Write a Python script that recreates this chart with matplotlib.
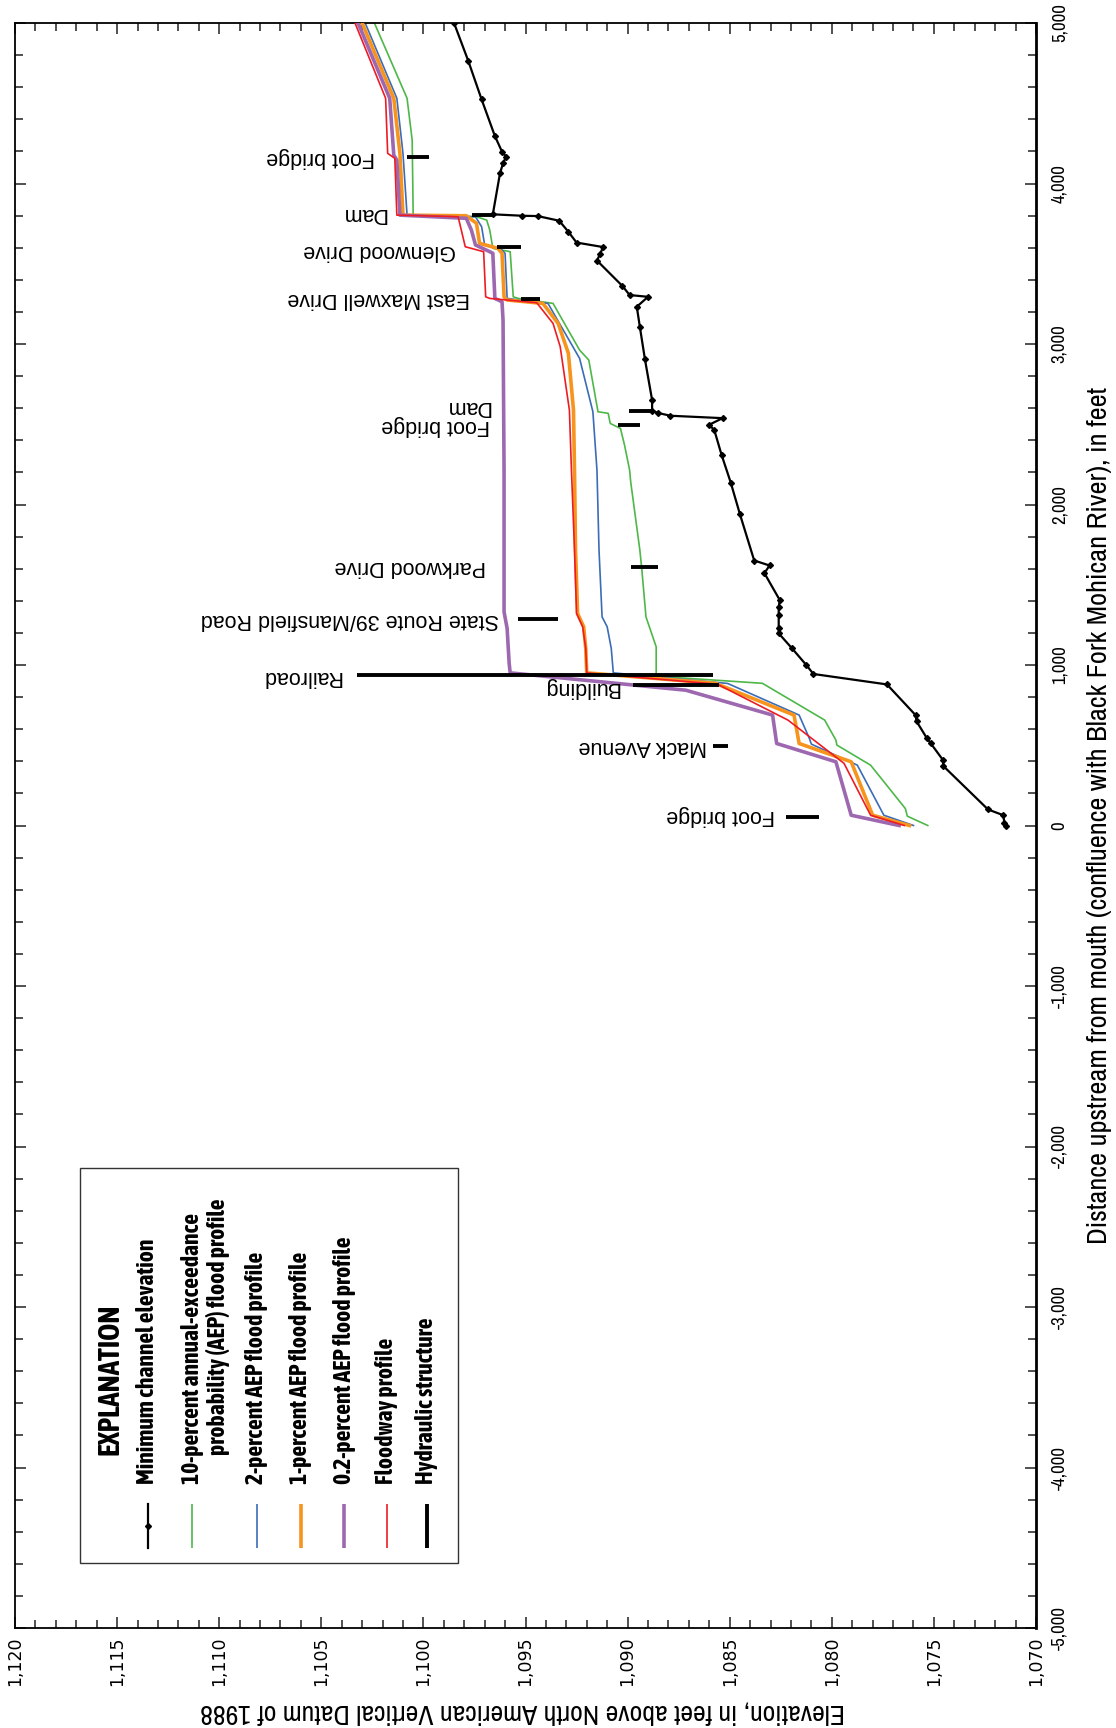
import matplotlib
matplotlib.use("Agg")
import matplotlib.pyplot as plt
from matplotlib.lines import Line2D
from matplotlib.patches import Rectangle
from matplotlib.ticker import MultipleLocator, FuncFormatter

# Water-surface profiles, distance upstream (ft) vs elevation (ft, NAVD 88)
chan_dist = [0, 17, 64, 100, 372, 407, 511, 545, 649, 688, 879, 944, 1000, 1104, 1197, 1229,
             1312, 1360, 1405, 1572, 1620, 1651, 1940, 2137, 2310, 2462, 2497, 2538, 2553, 2570,
             2585, 2651, 2904, 3107, 3232, 3294, 3305, 3361, 3520, 3560, 3604, 3632, 3699, 3768,
             3797, 3799, 3808, 4063, 4126, 4167, 4198, 4296, 4524, 4763, 5000]
chan_elev = [1071.45, 1071.55, 1071.6, 1072.35, 1074.55, 1074.55, 1075.15, 1075.35, 1075.85, 1075.9,
             1077.3, 1080.9, 1081.25, 1081.95, 1082.6, 1082.6, 1082.6, 1082.6, 1082.55, 1083.3,
             1083.05, 1083.8, 1084.5, 1084.95, 1085.4, 1085.75, 1086.0, 1085.35, 1087.9, 1088.5,
             1088.8, 1088.8, 1089.15, 1089.4, 1089.55, 1089.0, 1089.9, 1090.25, 1091.5, 1091.35,
             1091.2, 1092.5, 1092.9, 1093.35, 1094.4, 1095.15, 1096.6, 1096.25, 1096.1, 1095.95,
             1096.15, 1096.5, 1097.15, 1097.8, 1098.5]

p10_dist = [0, 58, 106, 376, 501, 532, 657, 886, 930, 1113, 1300, 1591, 1716, 2143, 2214, 2370,
            2474, 2505, 2568, 2578, 2900, 2962, 3107, 3253, 3284, 3294, 3575, 3596, 3710, 3772,
            3793, 3803, 4271, 4531, 5000]
p10_elev = [1075.3, 1076.3, 1076.4, 1078.1, 1079.75, 1079.8, 1080.35, 1083.4, 1088.6, 1088.6,
            1089.1, 1089.3, 1089.4, 1089.85, 1089.9, 1090.15, 1090.35, 1090.85, 1090.95, 1091.45,
            1091.9, 1092.35, 1093.0, 1093.65, 1095.35, 1095.6, 1095.75, 1096.6, 1096.75, 1096.9,
            1097.4, 1100.5, 1100.55, 1100.8, 1102.4]

p2_dist = [0, 64, 376, 507, 543, 688, 885, 951, 1103, 1238, 1300, 1716, 2214, 2578, 2910, 3253,
           3284, 3565, 3586, 3617, 3731, 3793, 3803, 4188, 4531, 5000]
p2_elev = [1076.0, 1077.45, 1078.75, 1081.0, 1081.1, 1081.6, 1085.1, 1090.7, 1090.8, 1091.0,
           1091.25, 1091.4, 1091.5, 1091.7, 1092.35, 1093.9, 1095.9, 1096.0, 1096.15, 1097.0,
           1097.15, 1097.45, 1100.8, 1101.0, 1101.3, 1102.85]

p1_dist = [0, 64, 397, 511, 688, 886, 951, 1103, 1238, 1321, 1716, 2214, 2588, 2942, 3128, 3253,
           3274, 3294, 3565, 3596, 3627, 3752, 3799, 3803, 4188, 4531, 5000]
p1_elev = [1076.2, 1078.0, 1079.05, 1081.6, 1081.85, 1085.7, 1092.0, 1092.05, 1092.15, 1092.45,
           1092.55, 1092.6, 1092.65, 1092.9, 1093.4, 1094.15, 1095.9, 1096.05, 1096.15, 1096.35,
           1097.25, 1097.4, 1097.9, 1101.0, 1101.15, 1101.45, 1103.0]

p02_dist = [0, 64, 397, 511, 688, 843, 951, 1010, 1228, 1331, 2214, 3149, 3263, 3284, 3565, 3575,
            3617, 3710, 3783, 3803, 4146, 4177, 4531, 5000]
p02_elev = [1076.7, 1079.05, 1079.8, 1082.7, 1082.9, 1087.15, 1095.75, 1095.8, 1095.9, 1096.05,
            1096.05, 1096.1, 1096.15, 1096.5, 1096.6, 1096.75, 1097.45, 1097.65, 1097.9, 1101.15,
            1101.3, 1101.45, 1101.65, 1103.2]

fw_dist = [0, 64, 387, 657, 880, 951, 1103, 1238, 1321, 1716, 2214, 2588, 2983, 3128, 3257, 3284,
           3294, 3575, 3606, 3793, 3803, 4157, 4188, 4531, 5000]
fw_elev = [1076.45, 1078.1, 1079.4, 1082.15, 1085.6, 1092.0, 1092.05, 1092.2, 1092.5, 1092.6,
           1092.75, 1092.85, 1093.3, 1093.65, 1094.45, 1096.75, 1096.95, 1097.05, 1097.95, 1098.3,
           1101.3, 1101.4, 1101.75, 1101.85, 1103.35]

# hydraulic structures
struct_names = ["Foot bridge", "Mack Avenue", "Building", "Railroad", "State Route 39/Mansfield Road",
                "Parkwood Drive", "Foot bridge", "Dam", "East Maxwell Drive", "Glenwood Drive",
                "Dam", "Foot bridge"]
struct_dist = [55, 495, 874, 936, 1284, 1612, 2495, 2580, 3282, 3602, 3805, 4167]
struct_low = [1080.65, 1085.1, 1085.5, 1085.8, 1093.4, 1088.5, 1089.4, 1088.7, 1094.3, 1095.2,
              1096.65, 1099.75]
struct_high = [1082.25, 1085.8, 1089.75, 1103.25, 1095.35, 1089.85, 1090.45, 1089.95, 1095.2,
               1096.4, 1097.6, 1100.8]
label_elev = [1082.8, 1086.1, 1090.4, 1104.0, 1096.3, 1096.95, 1096.75, 1096.75, 1097.7, 1098.4,
              1101.8, 1102.35]
label_dist = [60, 495, 860, 930, 1284, 1612, 2490, 2610, 3282, 3585, 3815, 4160]

legend_names = ["Minimum channel elevation",
                "10-percent annual-exceedance",
                "2-percent AEP flood profile",
                "1-percent AEP flood profile",
                "0.2-percent AEP flood profile",
                "Floodway profile",
                "Hydraulic structure"]

c_green = "#4db848"
c_blue = "#3b6cb7"
c_orange = "#f7941d"
c_purple = "#9d68b0"
c_red = "#ed1c24"

narrow = ["Archivo Narrow", "Liberation Sans", "DejaVu Sans"]
narrow_bold = ["Asap Condensed", "Liberation Sans", "DejaVu Sans"]
regular = ["Liberation Sans", "DejaVu Sans"]

W, H = 1116, 1728
fig = plt.figure(figsize=(W / 100, H / 100), dpi=100)
ax = fig.add_axes([15 / W, 1 - 1628 / H, 1021 / W, 1605 / H])

def fx(px):
    return px / W

def fy(py):
    return 1 - py / H

# profiles (plotted sideways: elevation on x, distance on y)
ax.plot(p10_elev, p10_dist, color=c_green, lw=1.2, zorder=2)
ax.plot(p2_elev, p2_dist, color=c_blue, lw=1.2, zorder=2)
ax.plot(p1_elev, p1_dist, color=c_orange, lw=2.6, zorder=3)
ax.plot(p02_elev, p02_dist, color=c_purple, lw=2.6, zorder=3)
ax.plot(fw_elev, fw_dist, color=c_red, lw=1.2, zorder=4)
ax.plot(chan_elev, chan_dist, color="black", lw=1.6, marker="D", ms=3, zorder=5)

for name, d, lo, hi, le, ld in zip(struct_names, struct_dist, struct_low, struct_high,
                                   label_elev, label_dist):
    ax.plot([lo, hi], [d, d], color="black", lw=2.8, solid_capstyle="butt", zorder=6)
    ax.text(le, ld, name, rotation=180, ha="right", va="center", fontsize=15.5,
            family=regular)

ax.set_xlim(1120, 1070)
ax.set_ylim(-5000, 5000)
ax.xaxis.set_major_locator(MultipleLocator(5))
ax.xaxis.set_minor_locator(MultipleLocator(1))
ax.yaxis.set_major_locator(MultipleLocator(1000))
ax.yaxis.set_minor_locator(MultipleLocator(200))
ax.xaxis.set_major_formatter(FuncFormatter(lambda v, p: f"{int(round(v)):,}"))
ax.yaxis.set_major_formatter(FuncFormatter(lambda v, p: f"{int(round(v)):,}"))
ax.tick_params(which="both", direction="in", top=True, bottom=True, left=True, right=True,
               width=1.1, color="#222222")
ax.tick_params(which="major", length=8)
ax.tick_params(which="minor", length=6)
ax.tick_params(axis="y", labelleft=False, labelright=True, pad=11, labelsize=13.5,
               labelrotation=90)
ax.tick_params(axis="x", pad=6, labelsize=12.5, labelrotation=90)
for lab in ax.get_yticklabels():
    lab.set_va("center")
    lab.set_family(narrow)
for sp in ax.spines.values():
    sp.set_linewidth(1.3)
ax.spines["right"].set_linewidth(2)

fig.text(fx(523), fy(1712), "Elevation, in feet above North American Vertical Datum of 1988",
         rotation=180, ha="center", va="center", fontsize=20, family=narrow)
fig.text(fx(1100), fy(815),
         "Distance upstream from mouth (confluence with Black Fork Mohican River), in feet",
         rotation=90, ha="center", va="center", fontsize=20.4, family=narrow)

# explanation box, drawn by hand because it is rotated
fig.add_artist(Rectangle((fx(80), fy(1563)), (458 - 80) / W, (1563 - 1168) / H,
                         transform=fig.transFigure, fill=False, lw=1, ec="#333333"))
fig.text(fx(110), fy(1455), "EXPLANATION", rotation=90, ha="center", va="bottom",
         fontsize=21, fontweight="bold", family=narrow_bold)

leg_x = [148, 192, 257, 301, 344, 387, 427]
leg_colors = ["black", c_green, c_blue, c_orange, c_purple, c_red, "black"]
leg_widths = [1.6, 1.2, 1.2, 2.6, 2.6, 1.2, 2.8]
for i, (x, col, lw, name) in enumerate(zip(leg_x, leg_colors, leg_widths, legend_names)):
    if i == 0:
        fig.add_artist(Line2D([fx(x)] * 3, [fy(1548), fy(1526), fy(1504)], transform=fig.transFigure,
                              color=col, lw=lw, marker="D", ms=3, markevery=[1]))
    else:
        fig.add_artist(Line2D([fx(x), fx(x)], [fy(1548), fy(1504)], transform=fig.transFigure,
                              color=col, lw=lw, solid_capstyle="butt"))
    fig.text(fx(x), fy(1484), name, rotation=90, ha="center", va="bottom", fontsize=17,
             fontweight="bold", family=narrow_bold)
fig.text(fx(218), fy(1455), "probability (AEP) flood profile", rotation=90, ha="center",
         va="bottom", fontsize=17, fontweight="bold", family=narrow_bold)

fig.savefig("out.png", dpi=100)
